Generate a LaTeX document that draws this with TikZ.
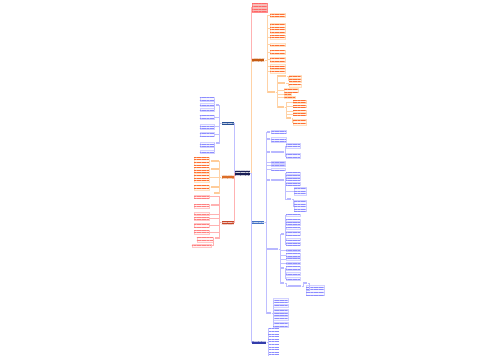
\documentclass[tikz,border=0pt]{standalone}
\usetikzlibrary{patterns.meta}
\definecolor{hubc}{RGB}{25,30,85}
\definecolor{rorange}{RGB}{197,90,17}
\definecolor{rblue}{RGB}{68,114,196}
\definecolor{rnavy}{RGB}{50,60,170}
\definecolor{lblue}{RGB}{40,80,150}
\definecolor{lorange}{RGB}{220,110,40}
\definecolor{lred}{RGB}{200,70,40}
\definecolor{crownc}{RGB}{246,190,185}
\tikzset{
  bw/.style={minimum width=#1*0.5pt},
  bh/.style={minimum height=#1*0.5pt},
  txt/.style={postaction={pattern={Lines[distance=1.3pt,line width=0.4pt]}, pattern color=#1}},
  leafb/.style={inner sep=0pt, draw=blue!18, line width=0.15pt, fill=blue!3, txt=blue!45},
  leafo/.style={inner sep=0pt, draw=orange!25, line width=0.15pt, fill=orange!7, txt=orange!60!red!80},
  leafr/.style={inner sep=0pt, draw=red!22, line width=0.15pt, fill=red!4, txt=red!50},
  tag/.style={inner sep=0pt, minimum height=0.7pt, fill=#1},
  branch/.style={inner sep=0pt, bw=12, bh=3, fill=#1, txt=white!70!#1},
  linkb/.style={draw=blue!25, line width=0.25pt},
  linko/.style={draw=orange!35, line width=0.25pt},
  linkr/.style={draw=red!30, line width=0.25pt},
}
\begin{document}
\begin{tikzpicture}[x=0.5pt,y=-0.5pt]
  \useasboundingbox[fill=white] (0,0) rectangle (500,360);
  % centre and main branches
  \node[inner sep=0pt, bw=15, bh=5, fill=hubc, txt=white!80!hubc] (root) at (242.5,173) {};
  \node[inner sep=0pt, bw=15, bh=9, anchor=west, fill=crownc, draw=red!45, line width=0.2pt, txt=red!60] (top) at (252,7.5) {};
  \node[branch=rorange, anchor=west] (ro) at (252,60) {};
  \node[branch=rblue, anchor=west] (rb) at (252,222) {};
  \node[branch=rnavy, anchor=west, bw=14] (rn) at (252,342) {};
  \node[branch=lblue, anchor=east] (lb) at (234,123) {};
  \node[branch=lorange, anchor=east] (lo) at (234,177) {};
  \node[branch=lred, anchor=east] (lr) at (234,222.5) {};
  \draw[linkr] (root.east) -- ++(1,0) |- (top.west);
  \draw[linko] (root.east) -- ++(1,0) |- (ro.west);
  \draw[linkb] (root.east) -- ++(1,0) |- (rb.west);
  \draw[linkb] (root.east) -- ++(1,0) |- (rn.west);
  \draw[linkb] (root.west) -- ++(-0.5,0) |- (lb.east);
  \draw[linko] (root.west) -- ++(-0.5,0) |- (lo.east);
  \draw[linkr] (root.west) -- ++(-0.5,0) |- (lr.east);

  % right orange branch
  \foreach \n/\y/\h in {1/15/4, 2/28/10, 3/37/4, 4/44.5/3, 5/52/4, 6/59.5/5, 7/66/4, 8/71.5/4}{
    \node[leafo, bw=15, bh=\h, anchor=west] (ro\n) at (270,\y) {};
    \draw[linko] (ro.east) -- ++(2.5,0) |- (ro\n.west);
  }
  \node[tag=orange!40, bw=7, anchor=west] (ro9) at (268,92) {};
  \draw[linko] (ro.east) -- ++(2.5,0) |- (ro9.west);
  \node[tag=orange!40, bw=9, anchor=west] (a1) at (277,76) {};
  \node[tag=orange!40, bw=8, anchor=west] (a2) at (277,83) {};
  \node[leafo, bw=14, bh=4, anchor=west] (a3) at (284,90) {};
  \node[leafo, bw=7, bh=2, anchor=west] (a4) at (284,94.5) {};
  \node[leafo, bw=11, bh=2, anchor=west] (a5) at (284,97.5) {};
  \node[tag=orange!40, bw=7, anchor=west] (a6) at (277,107) {};
  \foreach \k in {a1,a2,a3,a4,a5,a6}
    \draw[linko] (ro9.east) -- ++(1,0) |- (\k.west);
  \node[leafo, bw=12, bh=2.5, anchor=west] (p1) at (289,76.5) {};
  \node[leafo, bw=12, bh=2.5, anchor=west] (p2) at (289,80.5) {};
  \node[leafo, bw=12, bh=2.5, anchor=west] (p3) at (289,85.5) {};
  \draw[linko] (a1.east) -- ++(1.5,0) |- (p1.west);
  \draw[linko] (a1.east) -- ++(1.5,0) |- (p2.west);
  \draw[linko] (a2.east) -- ++(2,0) |- (p3.west);
  \foreach \n/\y/\h in {1/102/3, 2/106/2.5, 3/111.5/2, 4/114.5/2}{
    \node[leafo, bw=13, bh=\h, anchor=west] (q\n) at (293,\y) {};
    \draw[linko] (a6.east) -- ++(1.5,0) |- (q\n.west);
  }
  \node[tag=orange!40, bw=4, anchor=west] (a7) at (287,118) {};
  \draw[linko] (a6.east) -- ++(1.5,0) |- (a7.west);
  \node[leafo, bw=13, bh=6, anchor=west] (q5) at (293,122.5) {};
  \draw[linko] (a7.east) -- ++(0.5,0) |- (q5.west);

  % right blue branch
  \node[tag=blue!28, bw=3, anchor=west] (tb1) at (267,132) {};
  \node[tag=blue!28, bw=3, anchor=west] (tb2) at (267,139) {};
  \node[tag=blue!28, bw=3, anchor=west] (tb3) at (267,152) {};
  \node[tag=blue!28, bw=3, anchor=west] (tb4) at (267,180) {};
  \node[tag=blue!28, bw=11, anchor=west] (tb7) at (267,249) {};
  \node[tag=blue!28, bw=4, anchor=west] (tb8) at (267,313) {};
  \foreach \k in {tb1,tb2,tb3,tb4,tb7,tb8}
    \draw[linkb] (rb.east) -- ++(1.5,0) |- (\k.west);
  \node[leafb, bw=15, bh=3, anchor=west] (b1) at (271,131.5) {};
  \node[leafb, bw=15, bh=5, anchor=west] (b2) at (271,139.5) {};
  \draw[linkb] (tb1.east) -- (b1.west);
  \draw[linkb] (tb2.east) -- (b2.west);
  \node[tag=blue!28, bw=13, anchor=west] (tb3a) at (271,152) {};
  \draw[linkb] (tb3.east) -- (tb3a.west);
  \node[leafb, bw=14, bh=5, anchor=west] (b3) at (286,146) {};
  \node[leafb, bw=14, bh=5, anchor=west] (b4) at (286,156) {};
  \draw[linkb] (tb3a.east) -- ++(0.5,0) |- (b3.west);
  \draw[linkb] (tb3a.east) -- ++(0.5,0) |- (b4.west);
  \foreach \n/\y in {5/162, 6/165.5, 7/169}{
    \node[leafb, bw=14, bh=2, anchor=west] (b\n) at (271,\y) {};
    \draw[linkb] (rb.east) -- ++(1.5,0) |- (b\n.west);
  }
  \node[tag=blue!28, bw=13, anchor=west] (tb5) at (271,180) {};
  \draw[linkb] (tb4.east) -- (tb5.west);
  \foreach \n/\y/\h in {8/173/2, 9/176/2, 10/179/2, 11/184/3}{
    \node[leafb, bw=14, bh=\h, anchor=west] (b\n) at (286,\y) {};
    \draw[linkb] (tb5.east) -- ++(0.5,0) |- (b\n.west);
  }
  \node[leafb, bw=12, bh=8, anchor=west] (b12) at (294,191) {};
  \draw[linkb] (tb5.east) -- ++(0.5,0) |- (b12.west);
  \node[tag=blue!28, bw=4, anchor=west] (tb6) at (287,199) {};
  \draw[linkb] (tb5.east) -- ++(0.5,0) |- (tb6.west);
  \node[leafb, bw=12, bh=11, anchor=west] (b13) at (294,206) {};
  \draw[linkb] (tb6.east) -- ++(1,0) |- (b13.west);

  \node[tag=blue!28, bw=3, anchor=west] (tu1) at (281,234) {};
  \node[tag=blue!28, bw=3, anchor=west] (tu2) at (281,268) {};
  \node[tag=blue!28, bw=3, anchor=west] (tu3) at (281,283) {};
  \foreach \k in {tu1,tu2,tu3}
    \draw[linkb] (tb7.east) -- ++(1.5,0) |- (\k.west);
  \foreach \n/\y/\h in {1/215/2, 2/220/2, 3/224/3, 4/228/2, 5/233.5/4, 6/239/2, 7/244/3}{
    \node[leafb, bw=14, bh=\h, anchor=west] (c\n) at (286,\y) {};
    \draw[linkb] (tu1.east) -- ++(0.5,0) |- (c\n.west);
  }
  \foreach \n/\y/\h in {8/250/2, 9/255/4, 10/259.5/2, 11/263/2}{
    \node[leafb, bw=14, bh=\h, anchor=west] (c\n) at (286,\y) {};
    \draw[linkb] (tb7.east) -- ++(1.5,0) |- (c\n.west);
  }
  \foreach \n/\y/\h in {12/268/4, 13/273.5/3, 14/278.5/3}{
    \node[leafb, bw=14, bh=\h, anchor=west] (c\n) at (286,\y) {};
    \draw[linkb] (tu2.east) -- ++(0.5,0) |- (c\n.west);
  }
  \node[tag=blue!28, bw=13, anchor=west] (tu3a) at (288,286) {};
  \node[tag=blue!28, bw=4, anchor=west] (tu3b) at (303,283) {};
  \node[leafb, bw=18, bh=10, anchor=west] (c15) at (306,290) {};
  \draw[linkb] (tu3.east) -- ++(1,0) |- (tu3a.west);
  \draw[linkb] (tu3a.east) -- ++(1,0) |- (tu3b.west);
  \draw[linkb] (tu3b.east) -- ++(1,0) |- (c15.west);
  \foreach \n/\y/\h in {1/300/4, 2/305.5/3, 3/310.5/3, 4/314/2, 5/318/4, 6/324.5/5}{
    \node[leafb, bw=15, bh=\h, anchor=west] (d\n) at (273,\y) {};
    \draw[linkb] (tb8.east) -- ++(1,0) |- (d\n.west);
  }

  % right navy branch
  \foreach \i in {0,...,11}{
    \node[leafb, bw=11, bh=1.8, anchor=west, draw=none, fill=none] (e\i) at (268,328+2.5*\i) {};
    \draw[linkb] (rn.east) -- ++(1,0) |- (e\i.west);
  }

  % left blue branch
  \node[tag=blue!28, bw=3, anchor=east] (sb1) at (219,105) {};
  \node[tag=blue!28, bw=3, anchor=east] (sb2) at (219,143) {};
  \draw[linkb] (lb.west) -- ++(-1.5,0) |- (sb1.east);
  \draw[linkb] (lb.west) -- ++(-1.5,0) |- (sb2.east);
  \foreach \n/\y/\h in {1/99.5/4, 2/104.5/3, 3/109.5/3}{
    \node[leafb, bw=14, bh=\h, anchor=east] (f\n) at (214,\y) {};
    \draw[linkb] (sb1.west) -- ++(-1,0) |- (f\n.east);
  }
  \foreach \n/\y/\h in {4/117/4, 5/126.5/5, 6/134/4}{
    \node[leafb, bw=14, bh=\h, anchor=east] (f\n) at (214,\y) {};
    \draw[linkb] (lb.west) -- ++(-1.5,0) |- (f\n.east);
  }
  \foreach \n/\y/\h in {7/144.5/5, 8/151.5/3}{
    \node[leafb, bw=14, bh=\h, anchor=east] (f\n) at (214,\y) {};
    \draw[linkb] (sb2.west) -- ++(-1,0) |- (f\n.east);
  }

  % left orange branch
  \node[tag=orange!40, bw=8, anchor=east] (lo1) at (219,161) {};
  \node[tag=orange!40, bw=8, anchor=east] (lo2) at (219,169) {};
  \node[tag=orange!40, bw=8, anchor=east] (lo3) at (219,187) {};
  \node[tag=orange!40, bw=5, anchor=east] (lo4) at (219,193) {};
  \node[leafo, bw=15, bh=8, anchor=east] (g1) at (209,161) {};
  \node[leafo, bw=15, bh=5, anchor=east] (g2) at (209,169.5) {};
  \node[leafo, bw=15, bh=9, anchor=east] (g3) at (209,177.5) {};
  \node[leafo, bw=15, bh=5, anchor=east] (g4) at (209,187.5) {};
  \foreach \k in {lo1,lo2,g3,lo3,lo4}
    \draw[linko] (lo.west) -- ++(-1.5,0) |- (\k.east);
  \draw[linko] (lo1.west) -- (g1.east);
  \draw[linko] (lo2.west) -- (g2.east);
  \draw[linko] (lo3.west) -- (g4.east);

  % left red branch
  \node[tag=red!30, bw=8, anchor=east] (lr1) at (219,205) {};
  \node[tag=red!30, bw=4, anchor=east] (lr2) at (219,238) {};
  \foreach \n/\y/\h in {1/196.5/3, 3/214/3, 4/218.5/3, 5/225/4, 6/232/4}{
    \node[leafr, bw=15, bh=\h, anchor=east] (h\n) at (209,\y) {};
    \draw[linkr] (lr.west) -- ++(-1.5,0) |- (h\n.east);
  }
  \node[leafr, bw=15, bh=4, anchor=east] (h2) at (209,206) {};
  \draw[linkr] (lr.west) -- ++(-1.5,0) |- (lr1.east);
  \draw[linkr] (lr.west) -- ++(-1.5,0) |- (lr2.east);
  \draw[linkr] (lr1.west) -- (h2.east);
  \node[leafr, bw=16, bh=5, anchor=east] (h7) at (213,239.5) {};
  \node[leafr, bw=19, bh=3, anchor=east] (h8) at (211,245.5) {};
  \draw[linkr] (lr2.west) -- ++(-1,0) |- (h7.east);
  \draw[linkr] (lr2.west) -- ++(-1,0) |- (h8.east);
\end{tikzpicture}
\end{document}
